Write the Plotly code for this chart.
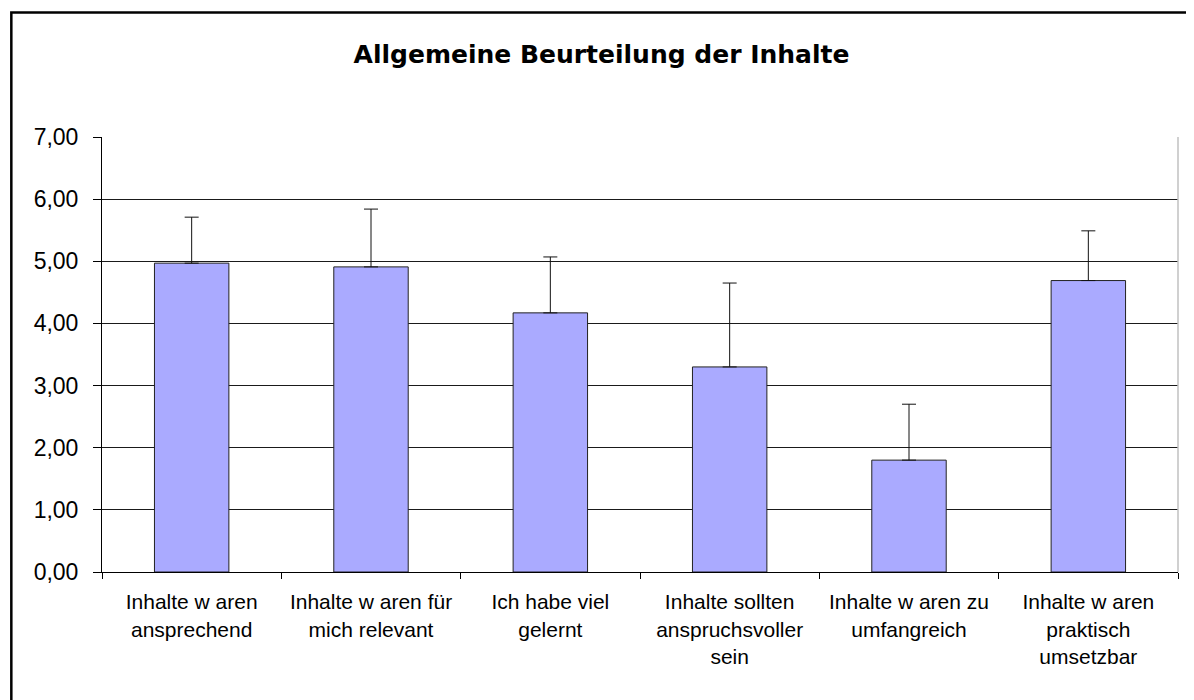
import plotly.graph_objects as go

# ---- data ----
categories = [
    "Inhalte w aren\nansprechend",
    "Inhalte w aren für\nmich relevant",
    "Ich habe viel\ngelernt",
    "Inhalte sollten\nanspruchsvoller\nsein",
    "Inhalte w aren zu\numfangreich",
    "Inhalte w aren\npraktisch\numsetzbar",
]
means = [4.97, 4.91, 4.17, 3.30, 1.80, 4.69]
std_dev = [0.74, 0.93, 0.90, 1.35, 0.90, 0.80]
y_ticks = [0, 1, 2, 3, 4, 5, 6, 7]
title_text = "Allgemeine Beurteilung der Inhalte"

labels = [c.replace("\n", "<br>") for c in categories]

# page body has an 8px default margin: work in figure pixel coordinates
OFF = 8
W, H = 1194 - OFF, 700 - OFF
L, R, T, B = 101.7 - OFF, 1178.0 - OFF, 136.7 - OFF, 572.3 - OFF

def px_x(p):
    return (p - OFF - L) / (R - L)

def px_y(p):
    return (B - (p - OFF)) / (B - T)

fig = go.Figure()
fig.add_trace(go.Bar(
    x=labels,
    y=means,
    marker=dict(color="#AAAAFF", line=dict(color="#222222", width=1)),
    error_y=dict(type="data", array=std_dev, arrayminus=[0] * len(std_dev),
                 symmetric=False, color="#111111", thickness=1, width=7),
    hoverinfo="x+y",
))

fig.update_layout(
    width=W, height=H,
    margin=dict(l=L, r=W - R, t=T, b=H - B, pad=0),
    paper_bgcolor="white",
    plot_bgcolor="white",
    bargap=0.585,
    showlegend=False,
    separators=",.",
    font=dict(family="Liberation Sans, Arial, sans-serif", color="black"),
    title=dict(
        text="<b>" + title_text + "</b>",
        font=dict(family="DejaVu Sans, Liberation Sans, sans-serif", size=25, color="black"),
        x=(601.5 - OFF) / W, xref="container", xanchor="center",
        y=1 - (54 - OFF) / H, yref="container", yanchor="middle",
    ),
    xaxis=dict(
        type="category",
        showline=True, linecolor="black", linewidth=1,
        ticks="outside", tickson="boundaries", ticklen=6, tickcolor="black", tickwidth=1,
        showgrid=False,
        tickfont=dict(size=21, color="black"),
        ticklabelstandoff=11,
    ),
    yaxis=dict(
        range=[0, 7],
        tickvals=y_ticks,
        tickformat=".2f",
        showline=True, linecolor="black", linewidth=1,
        ticks="outside", ticklen=8, tickcolor="black", tickwidth=1,
        showgrid=True, gridcolor="#1a1a1a", gridwidth=1,
        zeroline=False,
        tickfont=dict(size=23, color="black"),
        ticklabelstandoff=10,
    ),
    shapes=[
        # light grey right border of the plot area
        dict(type="line", xref="paper", yref="paper", x0=1, x1=1, y0=0, y1=1,
             line=dict(color="#c0c0c0", width=1.5)),
        # outer chart frame (continues past the bottom/right edges)
        dict(type="rect", xref="paper", yref="paper",
             x0=px_x(11), x1=px_x(1220), y0=px_y(720), y1=px_y(12),
             line=dict(color="black", width=2.5), fillcolor="rgba(0,0,0,0)",
             layer="above"),
    ],
)

fig.write_html("out.html")
